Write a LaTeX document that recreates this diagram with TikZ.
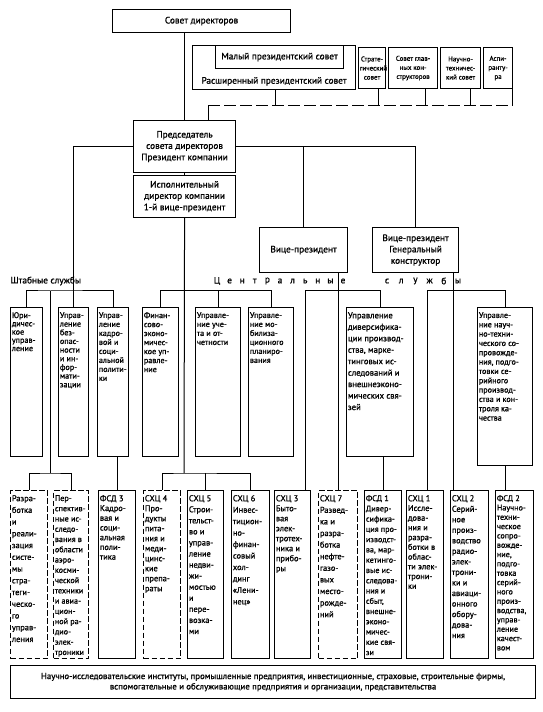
\documentclass[tikz,border=0pt]{standalone}
\usepackage{fontspec}
\setmainfont{PT Sans}[FakeBold=1]
\usepackage{tikz}

\newdimen\px \px=0.75pt
\newcommand{\sz}[2]{\fontsize{#1}{#2}\selectfont}
% text cells: width and height in px of the reference
\newcommand{\cell}[3]{\parbox[c][\dimexpr#2\px-2pt\relax][t]{\dimexpr#1\px-2pt\relax}{\raggedright\hyphenpenalty=10000\exhyphenpenalty=10000\vspace{2.5pt}#3}}
\newcommand{\ccell}[3]{\parbox[c][\dimexpr#2\px-2pt\relax][c]{\dimexpr#1\px-2pt\relax}{\centering\hyphenpenalty=10000\exhyphenpenalty=10000 #3}}
\newcommand{\bcell}[3]{\parbox[c][\dimexpr#2\px-2pt\relax][b]{\dimexpr#1\px-2pt\relax}{\centering #3\par\vspace{2pt}}}

\tikzset{
  box/.style={draw, anchor=north west, inner sep=1pt, line width=0.85pt},
  dbox/.style={box, dash pattern=on 4pt off 2pt},
  headbox/.style={box, font=\sz{7}{8.5}},
  councilbox/.style={box, font=\sz{5.2}{6.8}},
  upbox/.style={box, font=\sz{6.1}{6.75}},
  lowbox/.style={box, font=\sz{6.3}{7.6}},
  lbl/.style={inner sep=0pt, font=\sz{7}{8}},
}

\begin{document}
\begin{tikzpicture}[x=0.75pt,y=0.75pt,yscale=-1,xscale=1,line width=0.75pt]
    \useasboundingbox (0,0) rectangle (542,712);

    % Top level
    \node[headbox] (board) at (112,9) {\ccell{178}{23}{Совет директоров}};
    \node[headbox] (pc) at (192,45) {\bcell{163}{44}{Расширенный президентский совет}};
    \node[headbox] (spc) at (215,45) {\ccell{128}{23}{Малый президентский совет}};
    \node[councilbox] (strat) at (358,47) {\ccell{27}{41}{Страте-\\гический\\совет}};
    \node[councilbox] (sgk) at (388,47) {\ccell{49}{41}{Совет глав-\\ных кон-\\структоров}};
    \node[councilbox] (nts) at (440,47) {\ccell{40}{41}{Научно-\\техничес-\\кий совет}};
    \node[councilbox] (asp) at (483,47) {\ccell{29}{41}{Аспи-\\ранту-\\ра}};

    \node[headbox] (chair) at (133,120) {\ccell{102}{52}{Председатель\\совета директоров\\Президент компании}};
    \node[headbox] (exec) at (133,175) {\ccell{102}{42}{Исполнительный\\директор компании\\1-й вице-президент}};
    \node[headbox] (vp) at (259,227) {\ccell{88}{45}{Вице-президент}};
    \node[headbox] (vpgk) at (372,227) {\ccell{86}{45}{Вице-президент\\Генеральный\\конструктор}};

    % Group labels
    \node[lbl, anchor=west] (staff) at (10,281) {Штабные службы};
    \foreach \ch [count=\i from 0] in {Ц,е,н,т,р,а,л,ь,н,ы,е}
      \node[lbl] (cen\i) at (217+12.6*\i,281) {\ch};
    \foreach \ch [count=\i from 0] in {с,л,у,ж,б,ы}
      \node[lbl] (srv\i) at (387+14.2*\i,281) {\ch};

    % Services
    \node[upbox, font=\sz{6.1}{6.2}] (law) at (10,307) {\cell{32}{149}{Юри-\\дичес-\\кое\\управ-\\ление}};
    \node[upbox, font=\sz{6.1}{6.5}] (sec) at (58,307) {\cell{30}{149}{Управ-\\ление\\без-\\опас-\\ности\\и ин-\\фор-\\мати-\\зации}};
    \node[upbox] (hr) at (97,307) {\cell{31}{149}{Управ-\\ление\\кадро-\\вой и\\соци-\\альной\\полити-\\ки}};
    \node[upbox] (fin) at (142,307) {\cell{36}{149}{Финан-\\сово-\\эконо-\\мичес-\\кое уп-\\равле-\\ние}};
    \node[upbox] (acc) at (195,307) {\cell{45}{149}{Управле-\\ние уче-\\та и от-\\четности}};
    \node[upbox] (mob) at (248,307) {\cell{45}{149}{Управле-\\ние мо-\\билиза-\\ционного\\планиро-\\вания}};
    \node[upbox, font=\sz{6.5}{8.6}] (div) at (346,307) {\cell{67}{149}{Управление\\диверсифика-\\ции производ-\\ства, марке-\\тинговых ис-\\следований и\\внешнеэконо-\\мических свя-\\зей}};
    \node[upbox, font=\sz{6.1}{7}] (sci) at (477,307) {\cell{55}{158}{Управле-\\ние науч-\\но-техни-\\ческого со-\\провожде-\\ния, подго-\\товки се-\\рийного\\производ-\\ства и кон-\\троля ка-\\чества}};

    % Business centres
    \node[lowbox, dbox, font=\sz{6.3}{8.8}] (dev) at (10,490) {\cell{37}{168}{Разра-\\ботка\\и\\реали-\\зация\\систе-\\мы\\стра-\\теги-\\ческо-\\го\\управ-\\ления}};
    \node[lowbox, dbox, font=\sz{6.1}{7.7}] (persp) at (53,490) {\cell{35}{168}{Пер-\\спектив-\\ные ис-\\следо-\\вания в\\области\\аэро-\\косми-\\ческой\\техники\\и авиа-\\цион-\\ной ра-\\дио-\\элек-\\троники}};
    \node[lowbox, font=\sz{6.3}{7.3}] (fsd3) at (98,490) {\cell{37}{168}{ФСД 3\\Кадро-\\вая и\\соци-\\альная\\поли-\\тика}};
    \node[lowbox, dbox, font=\sz{6.3}{7.5}] (s4) at (143,490) {\cell{37}{168}{СХЦ 4\\Про-\\дукты\\пита-\\ния и\\меди-\\цинс-\\кие\\препа-\\раты}};
    \node[lowbox, font=\sz{6.3}{8.3}] (s5) at (187,490) {\cell{36}{168}{СХЦ 5\\Строи-\\тельст-\\во и\\управ-\\ление\\недви-\\жи-\\мостью\\и\\пере-\\возка-\\ми}};
    \node[lowbox, font=\sz{6.3}{8.6}] (s6) at (231,490) {\cell{38}{168}{СХЦ 6\\Инвес-\\тицион-\\но-\\финан-\\совый\\хол-\\динг\\«Лени-\\нец»}};
    \node[lowbox, font=\sz{6.3}{7.5}] (s3) at (274,490) {\cell{36}{168}{СХЦ 3\\Быто-\\вая\\элек-\\тротех-\\ника и\\прибо-\\ры}};
    \node[lowbox, dbox, font=\sz{6.3}{8.7}] (s7) at (318,490) {\cell{39}{168}{СХЦ 7\\Развед-\\ка и\\разра-\\ботка\\нефте-\\газо-\\вых\\место-\\рожде-\\ний}};
    \node[lowbox, font=\sz{6.1}{7.7}] (fsd1) at (364,490) {\cell{37}{168}{ФСД 1\\Дивер-\\сифика-\\ция про-\\изводст-\\ва, мар-\\кетинго-\\вые ис-\\следова-\\ния и\\сбыт,\\внешне-\\эконо-\\мичес-\\кие свя-\\зи}};
    \node[lowbox, font=\sz{6.3}{7.3}] (s1) at (406,490) {\cell{37}{168}{СХЦ 1\\Иссле-\\дова-\\ния и\\разра-\\ботки в\\облас-\\ти элек-\\трони-\\ки}};
    \node[lowbox, font=\sz{6.3}{7.9}] (s2) at (450,490) {\cell{38}{168}{СХЦ 2\\Серий-\\ное\\произ-\\водство\\радио-\\элек-\\трони-\\ки и\\авиаци-\\онного\\обору-\\дова-\\ния}};
    \node[lowbox, font=\sz{6.1}{7}] (fsd2) at (495,490) {\cell{38}{168}{ФСД 2\\Научно-\\техни-\\ческое\\сопро-\\вожде-\\ние,\\подго-\\товка\\серий-\\ного\\произ-\\водства,\\управ-\\ление\\качест-\\вом}};

    % Bottom row
    \node[box, font=\sz{6.6}{7.8}] (inst) at (10,665) {\ccell{525}{33}{Научно-исследовательские институты, промышленные предприятия, инвестиционные, страховые, строительные фирмы,\\вспомогательные и обслуживающие предприятия и организации, представительства}};

    % Bus points
    \coordinate (cl) at (208,106);
    \coordinate (cr) at (512,106);
    \coordinate (sbus) at (50,291);
    \coordinate (lbus) at (50,473);
    \coordinate (ebus) at (184,473);
    \coordinate (vpbus) at (305,291);
    \coordinate (gkbus) at (427,291);
    \coordinate (gk) at (453,272);

    % Board and councils
    \draw (board.south -| chair.north) -- (chair.north);
    \draw (cl) -- (cl |- chair.north);
    \draw [dash pattern=on 9pt off 3pt] (cl) -- (cr);
    \foreach \bx/\dx in {pc/275,strat/378,sgk/425,nts/470,asp/512}
      \draw (\bx.south -| \dx,0) -- (\dx,106);

    % President
    \draw (chair.south) -- (exec.north);
    \draw (chair.west) -| (sec.north);
    \draw (chair.east) -| (vpgk.north);
    \draw (chair.east -| vp.north) -- (vp.north);

    % Staff services
    \draw (law.north) |- (sbus) -| (hr.north);
    \draw (sbus) -- (lbus);
    \draw (dev.north) |- (lbus) -| (persp.north);
    \draw (hr.south -| fsd3.north) -- (fsd3.north);

    % Executive director
    \draw (exec.south) -- (ebus);
    \draw (s4.north) |- (ebus) -| (s6.north);
    \draw (s5.north) -- (s5.north |- ebus);
    \draw (fin.north) |- (sbus -| mob.north) -- (mob.north);
    \draw (acc.north) -- (acc.north |- sbus);

    % Vice-president
    \draw (vp.south -| s7.north) -- (s7.north);
    \draw (div.north) |- (vpbus) -- (vpbus |- s3.north);
    \draw (div.south -| fsd1.north) -- (fsd1.north);

    % Vice-president, general designer
    \draw (gk) -- (gk |- s2.north);
    \draw (sci.north) |- (gkbus) -- (gkbus |- s1.north);
    \draw (sci.south) -- (sci.south |- fsd2.north);
\end{tikzpicture}
\end{document}
